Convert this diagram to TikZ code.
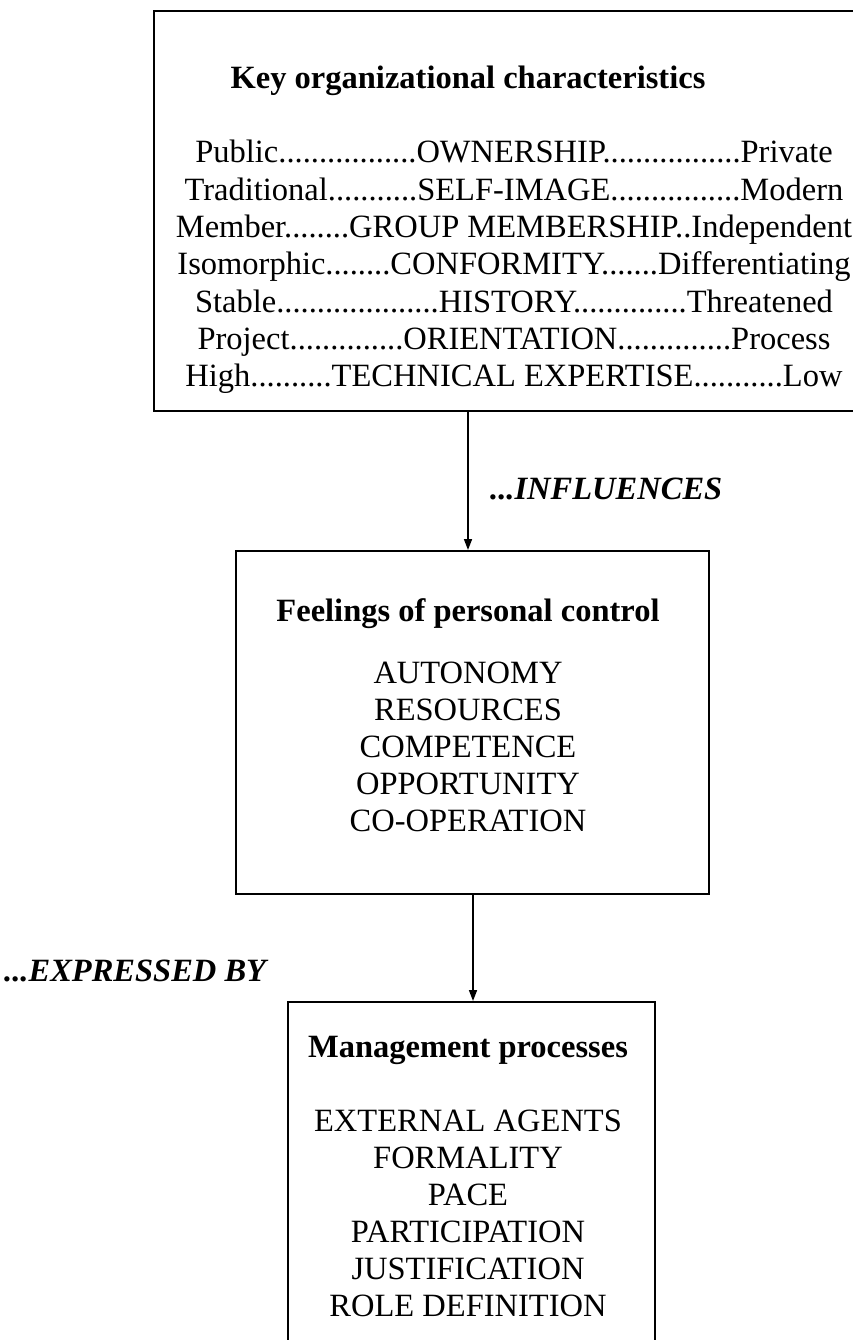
\documentclass[tikz,border=0pt]{standalone}
\usepackage{fontspec}
\setmainfont{Liberation Serif}
\usetikzlibrary{arrows.meta}
\begin{document}
\begin{tikzpicture}[x=1pt,y=-1pt,
  box/.style={draw,line width=2pt,rectangle,inner sep=0pt},
  txt/.style={anchor=base,inner sep=0pt,font=\fontsize{32.5}{37}\selectfont},
  head/.style={txt,font=\fontsize{32.5}{37}\selectfont\bfseries},
  lab/.style={anchor=base west,inner sep=0pt,font=\fontsize{32.5}{37}\selectfont\bfseries\itshape},
  arr/.style={line width=1.6pt,-{Triangle[length=11pt,width=8pt]}}]
\useasboundingbox (0,0) rectangle (853,1340);
\clip (0,0) rectangle (853,1340);
% boxes
\node[box,minimum width=724pt,minimum height=400pt] (top) at (516,211) {};
\node[box,minimum width=473pt,minimum height=343pt] (mid) at (472.5,722.5) {};
\node[box,minimum width=367pt,minimum height=378pt] (bot) at (471.5,1191) {};
% top box text
\node[head] (ktitle) at (468,89) {Key organizational characteristics};
\node[txt] (k1) at (514,163.0) {Public.................OWNERSHIP.................Private};
\node[txt] (k2) at (514,200.3) {Traditional...........SELF-IMAGE................Modern};
\node[txt] (k3) at (514,237.6) {Member........GROUP MEMBERSHIP..Independent};
\node[txt] (k4) at (514,274.9) {Isomorphic........CONFORMITY.......Differentiating};
\node[txt] (k5) at (514,312.2) {Stable....................HISTORY..............Threatened};
\node[txt] (k6) at (514,349.5) {Project..............ORIENTATION..............Process};
\node[txt] (k7) at (514,386.8) {High..........TECHNICAL EXPERTISE...........Low};
% middle box text
\node[head] (ftitle) at (468,621) {Feelings of personal control};
\foreach \t [count=\i] in {AUTONOMY,RESOURCES,COMPETENCE,OPPORTUNITY,CO-OPERATION}
  \node[txt] (f\i) at (468,{683+37.2*(\i-1)}) {\t};
% bottom box text
\node[head] (mtitle) at (468,1057) {Management processes};
\foreach \t [count=\i] in {EXTERNAL AGENTS,FORMALITY,PACE,PARTICIPATION,JUSTIFICATION,ROLE DEFINITION}
  \node[txt] (m\i) at (468,{1131+37*(\i-1)}) {\t};
% connectors
\coordinate (a1) at (468,0);
\coordinate (a2) at (473,0);
\draw[arr] (top.south -| a1) -- (mid.north -| a1);
\draw[arr] (mid.south -| a2) -- (bot.north -| a2);
% labels
\node[lab] (infl) at (490,499) {...INFLUENCES};
\node[lab] (expr) at (4,981) {...EXPRESSED BY};
\end{tikzpicture}
\end{document}
